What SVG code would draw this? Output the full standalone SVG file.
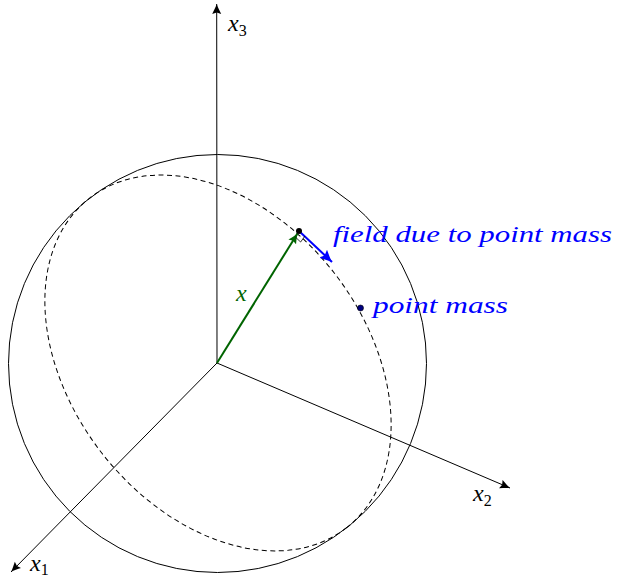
<svg xmlns="http://www.w3.org/2000/svg" width="618" height="579" viewBox="0 0 618 579">
<style>
.ax{stroke:#000;stroke-width:1;fill:none}
.lbl{font-style:italic;font-size:24px}
.sub{font-size:16px;font-style:normal}
.blue{fill:#0000ff}
</style>
<defs>
<marker id="ah" viewBox="-10 -5 11 10" refX="0" refY="0" markerWidth="11" markerHeight="10" markerUnits="userSpaceOnUse" orient="auto">
<path d="M0,0 C-3,-1 -7,-3 -10,-4.5 L-8.5,0 L-10,4.5 C-7,3 -3,1 0,0 Z" fill="#000"/>
</marker>
<marker id="ahg" viewBox="-10 -5 11 10" refX="0" refY="0" markerWidth="11" markerHeight="10" markerUnits="userSpaceOnUse" orient="auto">
<path d="M0,0 C-3,-1 -7,-3 -10,-4.5 L-8.5,0 L-10,4.5 C-7,3 -3,1 0,0 Z" fill="#006400"/>
</marker>
<marker id="ahb" viewBox="-12 -6 13 12" refX="0" refY="0" markerWidth="13" markerHeight="12" markerUnits="userSpaceOnUse" orient="auto">
<path d="M0,0 C-3.5,-1.2 -8,-3.5 -12,-5.5 L-10,0 L-12,5.5 C-8,3.5 -3.5,1.2 0,0 Z" fill="#0000ff"/>
</marker>
</defs>
<g id="sphere">
<circle cx="217.5" cy="363.5" r="209" class="ax"/>
</g>
<g id="equator">
<ellipse cx="218" cy="363" rx="209" ry="147" transform="rotate(52 218 363)" fill="none" stroke="#000" stroke-width="1" stroke-dasharray="5,3.5"/>
</g>
<g id="connectors">
<line x1="217" y1="363" x2="216.7" y2="4" class="ax" marker-end="url(#ah)"/>
<line x1="217" y1="363" x2="11" y2="572" class="ax" marker-end="url(#ah)"/>
<line x1="217" y1="363" x2="510" y2="488" class="ax" marker-end="url(#ah)"/>
<line x1="217" y1="363" x2="297.5" y2="233.5" stroke="#006400" stroke-width="2" marker-end="url(#ahg)"/>
<line x1="299" y1="231" x2="332" y2="262" stroke="#0000ff" stroke-width="2" marker-end="url(#ahb)"/>
<polyline points="295.5,237.2 300.6,242 305,236" fill="none" stroke="#000" stroke-width="0.8"/>
</g>
<g id="point-x">
<circle cx="299" cy="231" r="3" fill="#000"/>
<text x="236" y="301" class="lbl" fill="#006400" font-family="Liberation Serif, DejaVu Serif, serif">x</text>
</g>
<g id="point-mass">
<circle cx="360.5" cy="308" r="3" fill="#000080" stroke="#000" stroke-width="0.6"/>
<text x="373" y="313" class="lbl blue" font-family="Liberation Serif, DejaVu Serif, serif" textLength="135" lengthAdjust="spacingAndGlyphs">point mass</text>
</g>
<g id="field-label">
<text x="333" y="242" class="lbl blue" font-family="Liberation Serif, DejaVu Serif, serif" textLength="279" lengthAdjust="spacingAndGlyphs">field due to point mass</text>
</g>
<g id="label-x3">
<text x="228" y="31" class="lbl" font-family="Liberation Serif, DejaVu Serif, serif">x<tspan class="sub" dy="5">3</tspan></text>
</g>
<g id="label-x1">
<text x="30" y="571" class="lbl" font-family="Liberation Serif, DejaVu Serif, serif">x<tspan class="sub" dy="4">1</tspan></text>
</g>
<g id="label-x2">
<text x="473" y="501" class="lbl" font-family="Liberation Serif, DejaVu Serif, serif">x<tspan class="sub" dy="5">2</tspan></text>
</g>
</svg>
